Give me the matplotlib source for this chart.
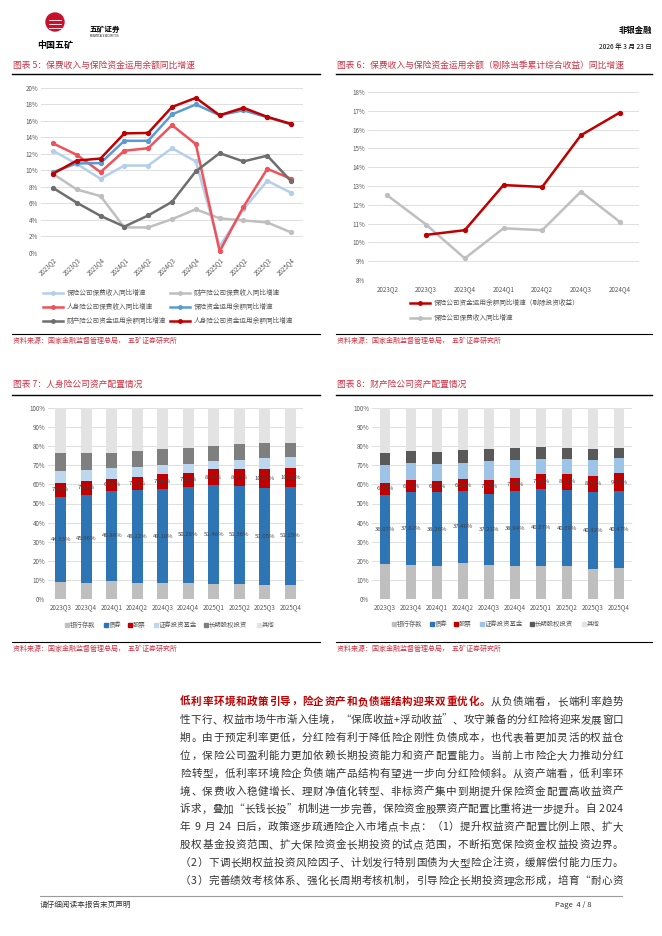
import matplotlib
matplotlib.use('Agg')
import matplotlib.pyplot as plt
from matplotlib.lines import Line2D
from matplotlib.patches import Rectangle, Ellipse
import numpy as np

plt.rcParams['font.family'] = ['Noto Sans CJK SC', 'DejaVu Sans']

# ---- data: chart 5 (yoy growth, %)
q5 = ['2023Q2', '2023Q3', '2023Q4', '2024Q1', '2024Q2', '2024Q3',
      '2024Q4', '2025Q1', '2025Q2', '2025Q3', '2025Q4']
prem_all = [12.4, 10.8, 9.0, 10.6, 10.6, 12.7, 11.1, 0.8, 5.3, 8.75, 7.3]
prem_pc = [9.6, 7.7, 6.9, 3.1, 3.1, 4.1, 5.3, 4.2, 3.95, 3.7, 2.5]
prem_life = [13.3, 11.9, 9.8, 12.4, 12.7, 15.5, 13.2, 0.2, 5.6, 10.2, 9.0]
fund_all = [9.8, 10.85, 10.9, 13.6, 13.6, 16.8, 18.0, 16.7, 17.3, 16.45, 15.6]
fund_pc = [7.9, 6.1, 4.5, 3.2, 4.55, 6.2, 9.9, 12.1, 11.1, 11.8, 8.7]
fund_life = [9.6, 11.2, 11.45, 14.5, 14.55, 17.7, 18.8, 16.7, 17.6, 16.5, 15.65]
names5 = ['保险公司保费收入同比增速', '财产险公司保费收入同比增速',
          '人身险公司保费收入同比增速', '保险资金运用余额同比增速',
          '财产险公司资金运用余额同比增速', '人身险公司资金运用余额同比增速']

# ---- data: chart 6
q6 = ['2023Q2', '2023Q3', '2023Q4', '2024Q1', '2024Q2', '2024Q3', '2024Q4']
fund_ex = [np.nan, 10.4, 10.65, 13.05, 12.95, 15.7, 16.9]
prem6 = [12.5, 10.95, 9.15, 10.75, 10.65, 12.7, 11.1]
names6 = ['保险公司资金运用余额同比增速（剔除投资收益）', '保险公司保费收入同比增速']

# ---- data: chart 7 / 8 (asset allocation, %)
q7 = ['2023Q3', '2023Q4', '2024Q1', '2024Q2', '2024Q3', '2024Q4',
      '2025Q1', '2025Q2', '2025Q3', '2025Q4']
life_bank = [8.9, 8.6, 9.6, 8.6, 8.4, 8.4, 8.0, 8.0, 7.2, 7.5]
life_bond = [44.53, 45.96, 46.88, 48.22, 49.10, 50.28, 51.48, 51.36, 51.05, 51.15]
life_stock = [7.55, 7.32, 6.58, 7.04, 7.86, 7.28, 8.43, 8.92, 10.03, 10.12]
life_fund = [6.1, 5.8, 5.4, 5.2, 4.9, 4.9, 4.2, 4.3, 5.4, 5.6]
life_lte = [9.1, 8.7, 8.0, 8.2, 8.2, 8.0, 8.0, 8.4, 7.9, 7.3]

pc_bank = [18.5, 18.0, 17.5, 19.0, 18.0, 17.5, 17.5, 17.1, 15.7, 16.2]
pc_bond = [36.07, 37.82, 38.26, 37.40, 37.21, 38.94, 40.07, 40.09, 40.42, 40.47]
pc_stock = [6.42, 6.31, 6.28, 6.35, 7.02, 7.04, 7.92, 8.41, 8.52, 9.13]
pc_fund = [9.4, 8.9, 8.9, 8.7, 10.0, 9.4, 7.8, 7.9, 8.0, 8.0]
pc_lte = [6.0, 6.2, 6.2, 6.5, 6.1, 6.1, 6.2, 5.6, 5.8, 5.3]
alloc_names = ['银行存款', '债券', '股票', '证券投资基金', '长期股权投资', '其他']

body = [
    '低利率环境和政策引导，险企资产和负债端结构迎来双重优化。从负债端看，长端利率趋势',
    '性下行、权益市场牛市渐入佳境，“保底收益+浮动收益”、攻守兼备的分红险将迎来发展窗口',
    '期。由于预定利率更低，分红险有利于降低险企刚性负债成本，也代表着更加灵活的权益仓',
    '位，保险公司盈利能力更加依赖长期投资能力和资产配置能力。当前上市险企大力推动分红',
    '险转型，低利率环境险企负债端产品结构有望进一步向分红险倾斜。从资产端看，低利率环',
    '境、保费收入稳健增长、理财净值化转型、非标资产集中到期提升保险资金配置高收益资产',
    '诉求，叠加“长钱长投”机制进一步完善，保险资金股票资产配置比重将进一步提升。自 2024',
    '年 9 月 24 日后，政策逐步疏通险企入市堵点卡点：（1）提升权益资产配置比例上限、扩大',
    '股权基金投资范围、扩大保险资金长期投资的试点范围，不断拓宽保险资金权益投资边界。',
    '（2）下调长期权益投资风险因子、计划发行特别国债为大型险企注资，缓解偿付能力压力。',
    '（3）完善绩效考核体系、强化长周期考核机制，引导险企长期投资理念形成，培育“耐心资',
]

W, H = 662, 936
TRED = '#CC3344'
GRID = '#D9D9D9'
TICK = '#595959'

fig = plt.figure(figsize=(W / 100, H / 100), dpi=100)


def ax_px(x0, y0, x1, y1):
    return fig.add_axes([x0 / W, 1 - y1 / H, (x1 - x0) / W, (y1 - y0) / H])


def txt(x, y, s, **kw):
    kw.setdefault('va', 'center')
    fig.text(x / W, 1 - y / H, s, **kw)


def hline(x0, x1, y, color='black', lw=1.0):
    fig.add_artist(Line2D([x0 / W, x1 / W], [1 - y / H] * 2, color=color, lw=lw))


def style_ax(ax):
    for s in ax.spines.values():
        s.set_visible(False)
    ax.tick_params(length=0, labelsize=4.5, colors=TICK, pad=2)
    ax.yaxis.grid(True, color=GRID, lw=0.6)
    ax.set_axisbelow(True)


# header
fig.add_artist(Ellipse((55 / W, 1 - 22 / H), 18 / W, 18 / H, color='#C8102E',
                       transform=fig.transFigure))
for yy in (20, 24, 28):
    hline(49, 61, yy, color='white', lw=0.6)
txt(55, 45, '中国五矿', ha='center', fontsize=6.5, fontweight='bold')
txt(90, 29, '五矿证券', ha='left', fontsize=5.5, fontweight='bold')
txt(90, 36, 'MINMETALS SECURITIES', ha='left', fontsize=1.8)
txt(652, 30, '非银金融', ha='right', fontsize=6, fontweight='bold')
txt(652, 47, '2026 年 3 月 23 日', ha='right', fontsize=4.8)

# titles / sources
for x0, x1, t in [(12, 320, '图表 5：保费收入与保险资金运用余额同比增速'),
                  (336, 652, '图表 6：保费收入与保险资金运用余额（剔除当季累计综合收益）同比增速')]:
    txt(x0 + 1, 65, t, ha='left', fontsize=6.3, color=TRED)
    hline(x0, x1, 74, lw=1.0)
    hline(x0, x1, 334, lw=0.8)
    txt(x0 + 1, 341, '资料来源：国家金融监督管理总局，  五矿证券研究所', ha='left',
        fontsize=5, color=TRED)
for x0, x1, t in [(12, 320, '图表 7：人身险公司资产配置情况'),
                  (336, 652, '图表 8：财产险公司资产配置情况')]:
    txt(x0 + 1, 384, t, ha='left', fontsize=6.3, color=TRED)
    hline(x0, x1, 395, lw=1.0)
    hline(x0, x1, 642, lw=0.8)
    txt(x0 + 1, 649, '资料来源：国家金融监督管理总局，  五矿证券研究所', ha='left',
        fontsize=5, color=TRED)

# ---- chart 5
colors5 = ['#B4CFEA', '#BFBFBF', '#F0525A', '#5B9BD5', '#6E6E6E', '#C00000']
series5 = [prem_all, prem_pc, prem_life, fund_all, fund_pc, fund_life]
ax5 = ax_px(41, 88, 303, 253)
style_ax(ax5)
x = np.arange(len(q5))
for vals, c in zip(series5, colors5):
    ax5.plot(x, vals, color=c, lw=1.8, marker='o', ms=2.8, mfc=c, mec=c)
ax5.set_xlim(-0.5, len(q5) - 0.5)
ax5.set_ylim(0, 20)
ax5.set_yticks(range(0, 21, 2))
ax5.set_yticklabels([f'{v}%' for v in range(0, 21, 2)])
ax5.set_xticks(x)
ax5.set_xticklabels(q5, rotation=45, ha='right', va='top', rotation_mode='anchor')
for row in range(3):
    for col in range(2):
        i = row * 2 + col
        y = 293 + row * 14
        lx = 43 if col == 0 else 170
        fig.add_artist(Line2D([lx / W, (lx + 20) / W], [1 - y / H] * 2, color=colors5[i],
                              lw=1.8, transform=fig.transFigure))
        fig.add_artist(Line2D([(lx + 10) / W], [1 - y / H], color=colors5[i], marker='o',
                              ms=2.5, transform=fig.transFigure))
        txt(lx + 24, y, names5[i], ha='left', fontsize=4.8, color=TICK)

# ---- chart 6
ax6 = ax_px(368, 92, 639, 280)
style_ax(ax6)
x6 = np.arange(len(q6))
ax6.plot(x6, prem6, color='#BFBFBF', lw=1.8, marker='o', ms=2.8)
ax6.plot(x6, fund_ex, color='#C00000', lw=1.8, marker='o', ms=2.8)
ax6.set_xlim(-0.5, len(q6) - 0.5)
ax6.set_ylim(8, 18)
ax6.set_yticks(range(8, 19))
ax6.set_yticklabels([f'{v}%' for v in range(8, 19)])
ax6.set_xticks(x6)
ax6.set_xticklabels(q6)
ax6.tick_params(axis='x', pad=4)
for i, (c, n) in enumerate(zip(['#C00000', '#BFBFBF'], names6)):
    y = 303 + i * 15
    fig.add_artist(Line2D([410 / W, 430 / W], [1 - y / H] * 2, color=c, lw=1.8,
                          transform=fig.transFigure))
    fig.add_artist(Line2D([420 / W], [1 - y / H], color=c, marker='o', ms=2.5,
                          transform=fig.transFigure))
    txt(434, y, n, ha='left', fontsize=4.8, color=TICK)


# ---- charts 7 / 8
def stacked(box, layers, colors, legend_x, legend_y):
    ax = ax_px(*box)
    style_ax(ax)
    xb = np.arange(len(q7))
    others = 100 - np.sum(layers, axis=0)
    bottom = np.zeros(len(q7))
    for k, (vals, c) in enumerate(zip(list(layers) + [others], colors)):
        vals = np.asarray(vals, dtype=float)
        ax.bar(xb, vals, 0.42, bottom=bottom, color=c, zorder=2)
        if k in (1, 2):
            for xi, b, v in zip(xb, bottom, vals):
                ax.text(xi, b + v / 2, f'{v:.2f}%', ha='center', va='center',
                        fontsize=4.3, color='#404040', zorder=3)
        bottom += vals
    ax.set_xlim(-0.5, len(q7) - 0.5)
    ax.set_ylim(0, 100)
    ax.set_yticks(range(0, 101, 10))
    ax.set_yticklabels([f'{v}%' for v in range(0, 101, 10)])
    ax.set_xticks(xb)
    ax.set_xticklabels(q7)
    ax.tick_params(axis='x', pad=3)
    for lx, c, n in zip(legend_x, colors, alloc_names):
        fig.add_artist(Rectangle((lx / W, 1 - (legend_y + 2) / H), 4 / W, 4 / H,
                                 color=c, transform=fig.transFigure))
        txt(lx + 5, legend_y, n, ha='left', fontsize=4.6, color=TICK)


stacked((48, 408, 303, 599), [life_bank, life_bond, life_stock, life_fund, life_lte],
        ['#BFBFBF', '#2E75B6', '#C00000', '#BDD7EE', '#7F7F7F', '#E3E3E3'],
        [65, 104, 128, 154, 204, 257], 625)
stacked((372, 408, 632, 599), [pc_bank, pc_bond, pc_stock, pc_fund, pc_lte],
        ['#BFBFBF', '#2E75B6', '#C00000', '#9DC3E6', '#595959', '#E3E3E3'],
        [392, 430, 454, 480, 530, 582], 624)

# ---- body text (justified, char by char, on a common baseline)
FS = 7.6
EM = FS * 100 / 72


def cw(ch):
    if ch == ' ':
        return 0.3
    if ord(ch) < 128:
        return 0.56
    return 1.0


x_left, x_right = 180, 623
for li, line in enumerate(body):
    base = 701 + li * 17.9 + 0.38 * EM
    ws = [cw(c) * EM for c in line]
    extra = max(0, (x_right - x_left - sum(ws)) / (len(line) - 1))
    xx = x_left
    for ci, (ch, w) in enumerate(zip(line, ws)):
        bold = li == 0 and ci < 28
        txt(xx, base, ch, ha='left', va='baseline', fontsize=FS,
            color='#C00000' if bold else '#333333',
            fontweight='bold' if bold else 'normal')
        xx += w + extra

# footer
hline(40, 622, 896, color='#9A9A9A', lw=0.8)
txt(40, 905, '请仔细阅读本报告末页声明', ha='left', fontsize=5.5, color='#333333')
txt(555, 905, 'Page  4 / 8', ha='left', fontsize=5.5, style='italic', color='#333333')

fig.savefig('out.png', dpi=100)
